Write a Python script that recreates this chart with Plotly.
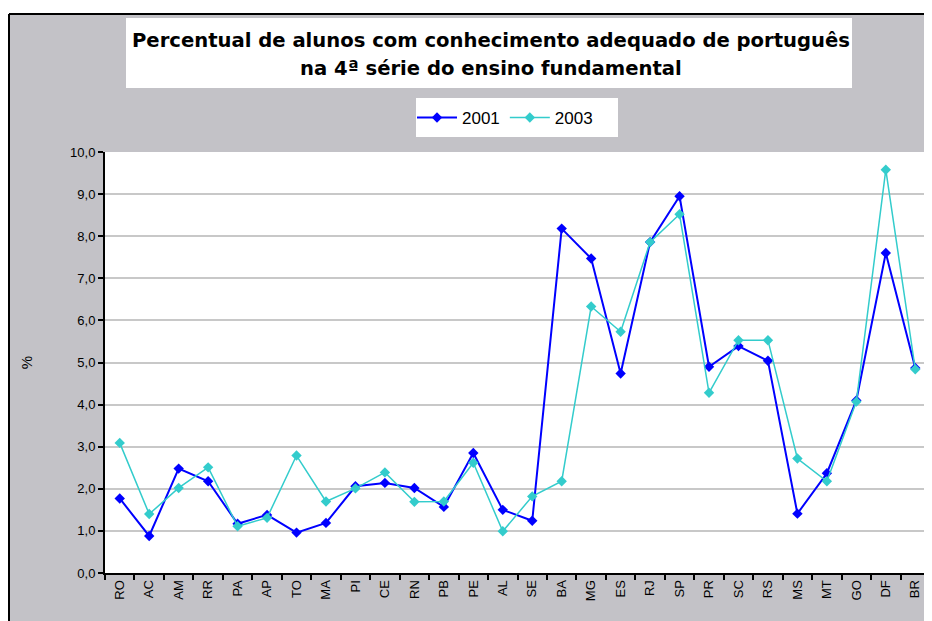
import plotly.graph_objects as go

states = ["RO", "AC", "AM", "RR", "PA", "AP", "TO", "MA", "PI", "CE", "RN", "PB", "PE", "AL",
          "SE", "BA", "MG", "ES", "RJ", "SP", "PR", "SC", "RS", "MS", "MT", "GO", "DF", "BR"]
v2001 = [1.77, 0.88, 2.48, 2.18, 1.17, 1.38, 0.96, 1.19, 2.06, 2.14, 2.02, 1.57, 2.85, 1.50,
         1.24, 8.18, 7.47, 4.74, 7.86, 8.95, 4.90, 5.39, 5.04, 1.41, 2.37, 4.10, 7.60, 4.87]
v2003 = [3.09, 1.40, 2.02, 2.51, 1.11, 1.31, 2.79, 1.70, 2.01, 2.39, 1.69, 1.70, 2.62, 0.99,
         1.82, 2.18, 6.33, 5.73, 7.86, 8.52, 4.28, 5.53, 5.53, 2.72, 2.18, 4.07, 9.58, 4.84]
series_names = ["2001", "2003"]
title_lines = ["Percentual de alunos com conhecimento adequado de português",
               "na 4ª série do ensino fundamental"]
y_ticks = [0, 1, 2, 3, 4, 5, 6, 7, 8, 9, 10]

# page body adds an 8px margin; design in screen coordinates and shift
OFF = 8
SW, SH = 932, 621
W, H = SW - OFF, SH - OFF
# plot area in screen coords: x 105..930, y 152..573
L, R, T, B = 105 - OFF, SW - 930, 152 - OFF, SH - 573
pw, ph = W - L - R, H - T - B


def px(xs):
    return (xs - OFF - L) / pw


def py(ys):
    return (H - B - (ys - OFF)) / ph


GRAY = "#C3C2C7"
FONT = "Liberation Sans, Arial, sans-serif"
TFONT = "DejaVu Sans, Liberation Sans, sans-serif"

fig = go.Figure()
fig.add_trace(go.Scatter(x=states, y=v2001, name=series_names[0], mode="lines+markers",
                         line=dict(color="#0000FF", width=2),
                         marker=dict(symbol="diamond", size=8, color="#0000FF")))
fig.add_trace(go.Scatter(x=states, y=v2003, name=series_names[1], mode="lines+markers",
                         line=dict(color="#33CCCC", width=1.5),
                         marker=dict(symbol="diamond", size=8, color="#33CCCC")))

shapes = [
    # white strip above border
    dict(type="rect", xref="paper", yref="paper", x0=px(0), x1=px(SW + 20), y0=py(14), y1=py(-10),
         fillcolor="white", line=dict(width=0), layer="below"),
    # title box
    dict(type="rect", xref="paper", yref="paper", x0=px(126), x1=px(852), y0=py(88), y1=py(18),
         fillcolor="white", line=dict(width=0), layer="below"),
    # legend box
    dict(type="rect", xref="paper", yref="paper", x0=px(416), x1=px(618), y0=py(137), y1=py(98),
         fillcolor="white", line=dict(width=0), layer="below"),
    # border lines
    dict(type="line", xref="paper", yref="paper", x0=px(9), x1=px(SW + 20), y0=py(14), y1=py(14),
         line=dict(color="black", width=2), layer="above"),
    dict(type="line", xref="paper", yref="paper", x0=px(9), x1=px(9), y0=py(14), y1=py(SH + 20),
         line=dict(color="black", width=2), layer="above"),
]

annotations = [
    dict(text="<b>" + title_lines[0] + "</b>", xref="paper", yref="paper", x=px(491), y=py(40),
         xanchor="center", yanchor="middle", showarrow=False,
         font=dict(family=TFONT, size=19.6, color="black")),
    dict(text="<b>" + title_lines[1] + "</b>", xref="paper", yref="paper", x=px(491), y=py(68),
         xanchor="center", yanchor="middle", showarrow=False,
         font=dict(family=TFONT, size=19.6, color="black")),
]

fig.update_layout(
    width=W, height=H,
    margin=dict(l=L, r=R, t=T, b=B, pad=0, autoexpand=False),
    paper_bgcolor=GRAY, plot_bgcolor="white",
    separators=",.",
    font=dict(family=FONT, color="black", size=13),
    shapes=shapes, annotations=annotations,
    showlegend=True,
    legend=dict(orientation="h", x=px(412), y=py(100), xanchor="left", yanchor="top",
                bgcolor="rgba(0,0,0,0)", font=dict(family=FONT, size=17, color="black"),
                itemwidth=40, tracegroupgap=0),
    xaxis=dict(type="category", range=[-0.5, 27.5], tickangle=-90, tickson="boundaries",
               ticks="outside", ticklen=5, tickcolor="black", tickwidth=2,
               showline=True, linecolor="black", linewidth=2, showgrid=False,
               tickfont=dict(family=FONT, size=13, color="black")),
    yaxis=dict(range=[0, 10], tickvals=y_ticks, tickformat=".1f", ticks="outside", ticklen=5,
               tickcolor="black", tickwidth=2, showline=True, linecolor="black", linewidth=2,
               showgrid=True, gridcolor="#C8C8C8", gridwidth=2, zeroline=False,
               tickfont=dict(family=FONT, size=13, color="black"),
               title=dict(text="%", font=dict(family=FONT, size=15, color="black"), standoff=34)),
)

fig.write_html("out.html")
